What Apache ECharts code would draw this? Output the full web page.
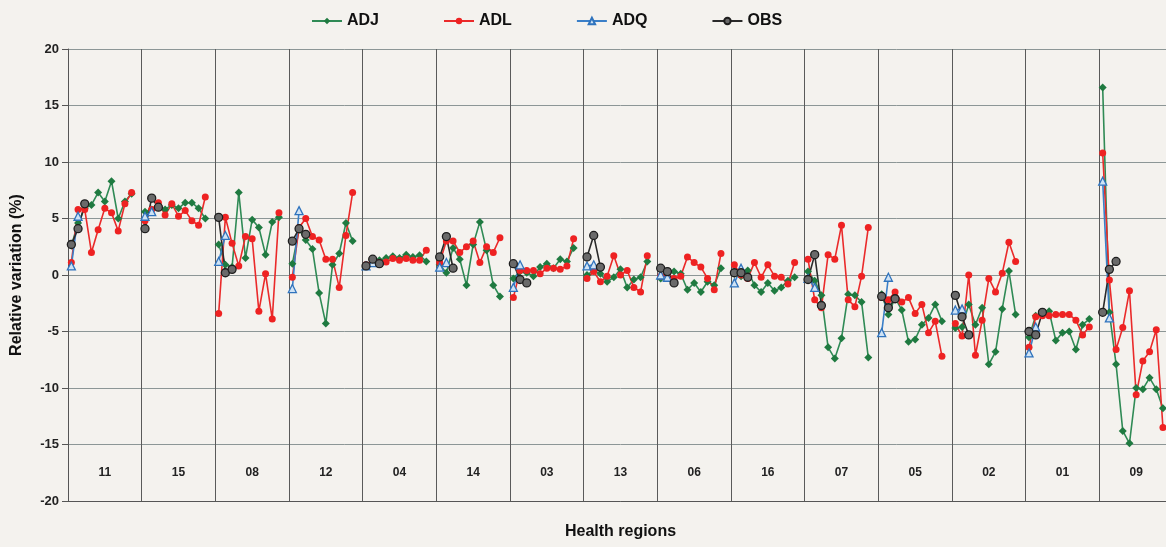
<!DOCTYPE html>
<html>
<head>
<meta charset="utf-8">
<script src="https://cdn.jsdelivr.net/npm/echarts@6/dist/echarts.min.js"></script>
<style>
html,body{margin:0;padding:0;background:#f4f2ee;overflow:hidden;width:1166px;height:547px;}
#c{width:1180px;height:547px;}
</style>
</head>
<body>
<div id="c"></div>
<script>
// Health regions (bands, left to right)
const regions = ['11','15','08','12','04','14','03','13','06','16','07','05','02','01','09'];
const yTicks = [-20,-15,-10,-5,0,5,10,15,20];

// ADJ: 10 values per region
const ADJ = [
  [2.6, 4.6, 5.9, 6.2, 7.3, 6.5, 8.3, 5.0, 6.5, 7.2],
  [5.6, 5.8, 6.1, 5.8, 6.2, 5.9, 6.4, 6.4, 5.9, 5.0],
  [2.7, 0.9, 0.7, 7.3, 1.5, 4.9, 4.2, 1.8, 4.7, 5.1],
  [1.0, 4.0, 3.1, 2.3, -1.6, -4.3, 0.9, 1.9, 4.6, 3.0],
  [0.8, 1.2, 1.3, 1.5, 1.65, 1.5, 1.8, 1.6, 1.75, 1.2],
  [0.9, 0.2, 2.4, 1.4, -0.9, 2.7, 4.7, 2.2, -0.9, -1.9],
  [-0.3, 0.3, 0.2, -0.1, 0.7, 1.0, 0.6, 1.4, 1.2, 2.4],
  [0.0, 0.4, 0.1, -0.6, -0.2, 0.5, -1.1, -0.4, -0.2, 1.2],
  [-0.3, 0.1, 0.3, 0.1, -1.3, -0.7, -1.5, -0.6, -0.9, 0.6],
  [0.1, -0.1, 0.4, -0.9, -1.5, -0.7, -1.4, -1.1, -0.5, -0.2],
  [0.3, -0.5, -1.8, -6.4, -7.4, -5.6, -1.7, -1.8, -2.4, -7.3],
  [-1.7, -3.5, -2.0, -3.1, -5.9, -5.7, -4.4, -3.8, -2.6, -4.1],
  [-4.7, -4.6, -2.6, -4.4, -2.9, -7.9, -6.8, -3.0, 0.35, -3.5],
  [-5.5, -3.6, -3.4, -3.2, -5.8, -5.1, -5.0, -6.6, -4.4, -3.9],
  [16.6, -3.3, -7.9, -13.8, -14.9, -10.0, -10.1, -9.1, -10.1, -11.8]
];

// ADL: 10 values per region
const ADL = [
  [1.1, 5.8, 5.8, 2.0, 4.0, 5.9, 5.5, 3.9, 6.3, 7.3],
  [4.8, 5.8, 6.4, 5.3, 6.3, 5.2, 5.7, 4.8, 4.4, 6.9],
  [-3.4, 5.1, 2.8, 0.8, 3.4, 3.2, -3.2, 0.1, -3.9, 5.5],
  [-0.2, 4.2, 5.0, 3.4, 3.1, 1.4, 1.4, -1.1, 3.5, 7.3],
  [0.9, 1.1, 1.1, 1.15, 1.45, 1.3, 1.45, 1.3, 1.3, 2.2],
  [1.1, 3.0, 3.0, 2.0, 2.5, 3.0, 1.1, 2.5, 2.0, 3.3],
  [-2.0, 0.4, 0.4, 0.4, 0.1, 0.6, 0.6, 0.5, 0.8, 3.2],
  [-0.3, 0.3, -0.6, -0.1, 1.7, 0.0, 0.4, -1.1, -1.5, 1.7],
  [-0.1, 0.1, -0.3, -0.1, 1.6, 1.1, 0.7, -0.3, -1.3, 1.9],
  [0.9, 0.0, -0.3, 1.1, -0.2, 0.9, -0.1, -0.2, -0.8, 1.1],
  [1.4, -2.2, -2.9, 1.8, 1.4, 4.4, -2.2, -2.8, -0.1, 4.2],
  [-2.0, -2.2, -1.5, -2.4, -2.0, -3.4, -2.6, -5.1, -4.1, -7.2],
  [-4.3, -5.4, 0.0, -7.1, -4.0, -0.3, -1.5, 0.15, 2.9, 1.2],
  [-6.4, -3.7, -3.6, -3.6, -3.5, -3.5, -3.5, -4.0, -5.3, -4.6],
  [10.8, -0.45, -6.6, -4.65, -1.4, -10.6, -7.6, -6.8, -4.85, -13.5]
];

// ADQ: 2 values per region
const ADQ = [
  [0.8, 5.2], [5.2, 5.6], [1.2, 3.5], [-1.2, 5.7], [0.8, 1.1],
  [0.7, 1.1], [-1.1, 0.9], [0.8, 0.9], [0.0, -0.2], [-0.7, 0.6],
  [-0.3, -1.1], [-5.1, -0.2], [-3.1, -3.0], [-6.9, -4.6], [8.3, -3.8]
];

// OBS: 3 values per region
const OBS = [
  [2.7, 4.1, 6.3], [4.1, 6.8, 6.0], [5.1, 0.2, 0.5], [3.0, 4.1, 3.6], [0.8, 1.4, 1.0],
  [1.6, 3.4, 0.6], [1.0, -0.4, -0.7], [1.6, 3.5, 0.7], [0.6, 0.3, -0.7], [0.2, 0.2, -0.2],
  [-0.4, 1.8, -2.7], [-1.9, -2.9, -2.1], [-1.8, -3.7, -5.3], [-5.0, -5.3, -3.3], [-3.3, 0.5, 1.2]
];

const SLOTS = 11; // slots per region band (last one left empty)
const slotCats = [];
regions.forEach(r => { for (let i = 0; i < SLOTS; i++) slotCats.push(r + '_' + i); });
function flat(arr) {
  const out = [];
  arr.forEach(r => { for (let i = 0; i < SLOTS; i++) out.push(i < r.length ? r[i] : null); });
  return out;
}

const FONT = '"Liberation Sans", Arial, sans-serif';
const NARROW = '"Liberation Sans Narrow", "Liberation Sans", Arial, sans-serif';

const chart = echarts.init(document.getElementById('c'), null, {renderer: 'canvas'});
chart.setOption({
  backgroundColor: '#f4f2ee',
  animation: false,
  legend: {
    left: 306, top: 8,
    itemWidth: 30, itemHeight: 8, itemGap: 64,
    textStyle: {fontFamily: FONT, fontWeight: 'bold', fontSize: 16, color: '#111'},
    data: ['ADJ', 'ADL', 'ADQ', 'OBS']
  },
  grid: {left: 68, top: 49, width: 1105, height: 452, containLabel: false},
  xAxis: [
    {
      type: 'category', data: slotCats, position: 'top', boundaryGap: true,
      axisLine: {show: false}, axisTick: {show: false}, axisLabel: {show: false}, splitLine: {show: false}
    },
    {
      type: 'category', data: regions, position: 'bottom', boundaryGap: true,
      axisLine: {show: true, onZero: false, lineStyle: {color: '#555', width: 1}},
      axisTick: {show: false},
      splitLine: {show: true, lineStyle: {color: '#5a5a5a', width: 1}},
      axisLabel: {inside: true, margin: 22, fontFamily: NARROW, fontWeight: 'bold', fontSize: 12, color: '#222'},
      name: 'Health regions', nameLocation: 'middle', nameGap: 23,
      nameTextStyle: {fontFamily: FONT, fontWeight: 'bold', fontSize: 16, color: '#111'}
    }
  ],
  yAxis: {
    type: 'value', min: -20, max: 20, interval: 5,
    axisLine: {show: true, lineStyle: {color: '#555', width: 1}},
    axisTick: {show: true, length: 6, lineStyle: {color: '#555'}},
    axisLabel: {margin: 9, fontFamily: FONT, fontWeight: 'bold', fontSize: 13, color: '#222'},
    splitLine: {show: true, lineStyle: {color: '#8c9696', width: 1}},
    name: 'Relative variation (%)', nameLocation: 'middle', nameGap: 43,
    nameTextStyle: {fontFamily: FONT, fontWeight: 'bold', fontSize: 16, color: '#111'}
  },
  series: [
    {
      name: 'ADJ', type: 'line', xAxisIndex: 0, data: flat(ADJ),
      symbol: 'diamond', symbolSize: 8, showAllSymbol: true, connectNulls: false,
      lineStyle: {color: '#2f8a55', width: 1.6},
      itemStyle: {color: '#1f7a40', borderColor: '#1f7a40', borderWidth: 0}
    },
    {
      name: 'ADL', type: 'line', xAxisIndex: 0, data: flat(ADL),
      symbol: 'circle', symbolSize: 7, showAllSymbol: true, connectNulls: false,
      lineStyle: {color: '#ea2a2a', width: 1.6},
      itemStyle: {color: '#ee2222', borderColor: '#ee2222', borderWidth: 0}
    },
    {
      name: 'ADQ', type: 'line', xAxisIndex: 0, data: flat(ADQ),
      symbol: 'triangle', symbolSize: 8, showAllSymbol: true, connectNulls: false,
      lineStyle: {color: '#3a7fc8', width: 1.6},
      itemStyle: {color: '#cfe3f5', borderColor: '#2f73bd', borderWidth: 1.3}
    },
    {
      name: 'OBS', type: 'line', xAxisIndex: 0, data: flat(OBS),
      symbol: 'circle', symbolSize: 8, showAllSymbol: true, connectNulls: false,
      lineStyle: {color: '#2a2a2a', width: 1.6},
      itemStyle: {color: '#6a6a6a', borderColor: '#1e1e1e', borderWidth: 1.3}
    }
  ]
});
</script>
</body>
</html>
